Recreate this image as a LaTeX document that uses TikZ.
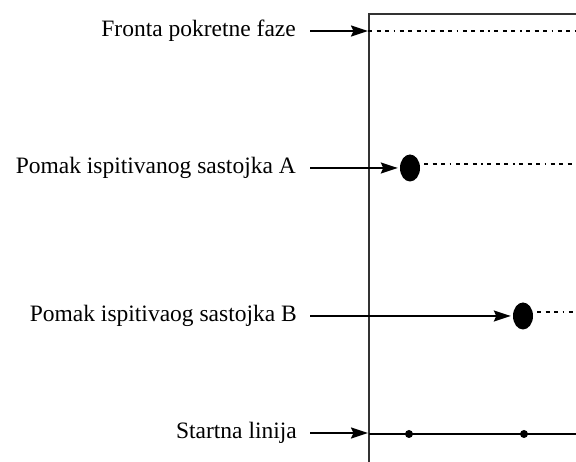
\documentclass[tikz,border=0pt]{standalone}
\usepackage{fontspec}
\setmainfont{Liberation Serif}
\usetikzlibrary{arrows.meta,shapes.geometric}
\begin{document}
\begin{tikzpicture}[x=1pt,y=1pt,
  lbl/.style={anchor=east,inner sep=0pt,font=\fontsize{23.5}{26}\selectfont},
  ptr/.style={line width=1.8pt,-{Stealth[length=17pt,width=11pt,inset=2.5pt]}},
  frame/.style={line width=2.2pt,draw={black!80}},
  trail/.style={line width=1.6pt,dash pattern=on 4pt off 4.5pt on 4pt off 4.5pt on 4pt off 4.5pt on 1.6pt off 4.5pt},
  spot/.style={ellipse,fill=black,inner sep=0pt,minimum width=20pt,minimum height=27pt},
  dotp/.style={circle,fill=black,inner sep=0pt,minimum size=8pt}]
\useasboundingbox (0,0) rectangle (576,462);
% frame
\coordinate (fbl) at (369,0);
\coordinate (ftl) at (369,448);
\coordinate (ftr) at (577,448);
\draw[frame] (fbl) -- (ftl) -- (ftr);
% labels
\node[lbl] (lf) at (296,431) {Fronta pokretne faze};
\node[lbl] (la) at (296,294) {Pomak ispitivanog sastojka A};
\node[lbl] (lb) at (297,146) {Pomak ispitivaog sastojka B};
\node[lbl] (ls) at (297,29) {Startna linija};
% spots
\node[spot] (sa) at (410,294) {};
\node[spot] (sb) at (523,146) {};
\node[dotp] (d1) at (409,28) {};
\node[dotp] (d2) at (524,28) {};
% coordinates
\coordinate (ffront) at (368,431);
\coordinate (fstart) at (368,29);
\coordinate (frontend) at (577,431);
\coordinate (aend) at (577,298);
\coordinate (bend) at (577,150);
\coordinate (sl) at (369,28);
\coordinate (sr) at (577,28);
\coordinate (af) at (310,294);
\coordinate (bf) at (310,146);
\coordinate (ff) at (310,431);
\coordinate (sf) at (310,29);
% trails
\draw[trail] (ffront) -- (frontend);
\draw[trail] ([xshift=4pt]sa.east |- aend) -- (aend);
\draw[trail] ([xshift=4pt]sb.east |- bend) -- (bend);
% start line
\draw[line width=1.8pt] (sl) -- (sr);
% arrows
\draw[ptr] (ff) -- (ffront);
\draw[ptr] (af) -- ([xshift=-2pt]sa.west);
\draw[ptr] (bf) -- ([xshift=-2pt]sb.west);
\draw[ptr] (sf) -- (fstart);
\end{tikzpicture}
\end{document}
